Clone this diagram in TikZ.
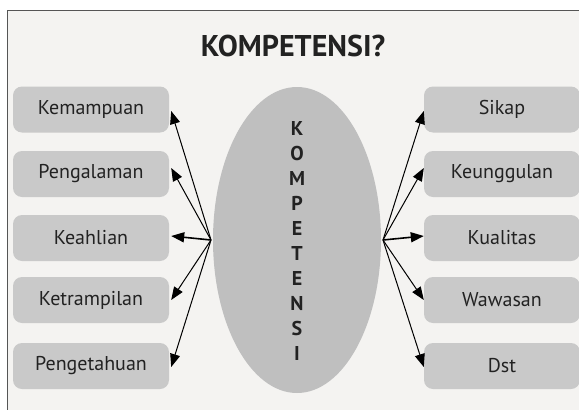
\documentclass[tikz,border=0pt]{standalone}
\usepackage{fontspec}
\setmainfont{PT Sans}
\usetikzlibrary{arrows.meta,shapes.geometric}
\definecolor{bg}{HTML}{F4F3F1}
\definecolor{boxc}{HTML}{C9C9C9}
\definecolor{ellc}{HTML}{BFBFBF}
\definecolor{txt}{HTML}{222222}
\definecolor{frame}{HTML}{555555}
\tikzset{
  itembox/.style={rectangle, rounded corners=9pt, fill=boxc, minimum width=156pt, minimum height=46pt, inner sep=0pt, text=txt, font=\fontsize{20}{22}\selectfont},
  conn/.style={draw=black, line width=1pt, -{Triangle[length=13pt,width=10pt]}},
  letter/.style={font=\bfseries\fontsize{20}{22}\selectfont, text=txt, inner sep=0pt}
}
\begin{document}
\begin{tikzpicture}[x=1pt,y=-1pt]
\useasboundingbox (0,0) rectangle (579,410);
\fill[white] (0,0) rectangle (579,410);
\draw[frame, fill=bg, line width=0.9pt] (7,10) rectangle (600,430);
\node[font=\bfseries\fontsize{30}{33}\selectfont, text=txt] (title) at (293,46) {KOMPETENSI?};
\node[ellipse, fill=ellc, minimum width=168pt, minimum height=306pt, inner sep=0pt] (E) at (297,240) {};
\foreach \l [count=\i] in {K,O,M,P,E,T,E,N,S,I} {
  \node[letter, anchor=base] (c\i) at (297,{135+25*(\i-1)}) {\l};
}
\node[itembox] (L1) at (91,109.5) {Kemampuan};
\node[itembox] (L2) at (91,174) {Pengalaman};
\node[itembox] (L3) at (91,238) {Keahlian};
\node[itembox] (L4) at (91,300) {Ketrampilan};
\node[itembox] (L5) at (91,366) {Pengetahuan};
\node[itembox] (R1) at (502,109.5) {Sikap};
\node[itembox] (R2) at (502,174) {Keunggulan};
\node[itembox] (R3) at (502,238) {Kualitas};
\node[itembox] (R4) at (502,300) {Wawasan};
\node[itembox] (R5) at (502,366) {Dst};
\coordinate (EL) at (211,240);
\coordinate (ER) at (383,240);
\draw[conn] (EL) -- ([xshift=2pt,yshift=-1.5pt]L1.east);
\draw[conn] (EL) -- ([xshift=2pt,yshift=6pt]L2.east);
\draw[conn, line width=1.6pt] (EL) -- ([xshift=2pt,yshift=2pt]L3.east);
\draw[conn] (EL) -- ([xshift=2pt]L4.east);
\draw[conn] (EL) -- ([xshift=2pt,yshift=-1pt]L5.east);
\draw[conn] (ER) -- ([yshift=-1.5pt]R1.west);
\draw[conn] (ER) -- ([yshift=6pt]R2.west);
\draw[conn, line width=1.6pt] (ER) -- ([yshift=2pt]R3.west);
\draw[conn] (ER) -- (R4.west);
\draw[conn] (ER) -- ([yshift=-1pt]R5.west);
\end{tikzpicture}
\end{document}
